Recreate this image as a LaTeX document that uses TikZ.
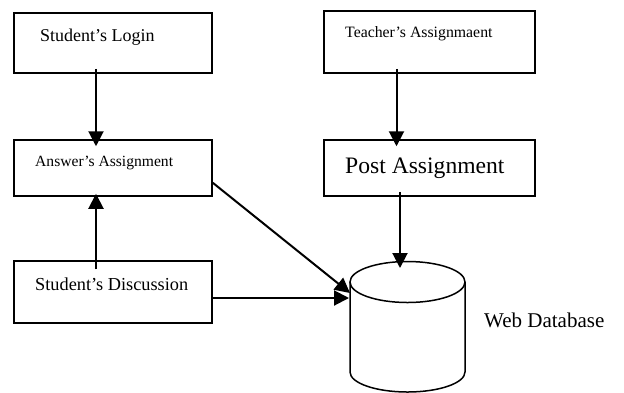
\documentclass[tikz,border=0pt]{standalone}
\usepackage{fontspec}
\setmainfont{Liberation Serif}
\usetikzlibrary{arrows.meta}
\begin{document}
\begin{tikzpicture}[x=1pt,y=-1pt,
  box/.style={draw, line width=1.5pt, rectangle, minimum width=198pt, minimum height=#1, inner sep=0pt, fill=white},
  txt/.style={anchor=base west, inner sep=0pt},
  arr/.style={line width=2pt, -{Triangle[length=15pt,width=15pt]}},
  dbline/.style={line width=1.5pt}]
\useasboundingbox (0,0) rectangle (624,392);
% boxes
\node[box=60pt] (login) at (113,43) {};
\node[box=56pt] (answer) at (113,168) {};
\node[box=62pt] (disc) at (113,292) {};
\node[box=62pt, minimum width=211pt] (teacher) at (429.5,42) {};
\node[box=56pt, minimum width=211pt] (post) at (429.5,168) {};
% texts
\node[txt, font=\fontsize{18}{20}\selectfont] (tlogin) at (40,41) {Student’s Login};
\node[txt, font=\fontsize{15.6}{18}\selectfont] (tanswer) at (35,166) {Answer’s Assignment};
\node[txt, font=\fontsize{18.3}{20}\selectfont] (tdisc) at (35,290) {Student’s Discussion};
\node[txt, font=\fontsize{15.8}{18}\selectfont] (tteacher) at (345,37) {Teacher’s Assignmaent};
\node[txt, font=\fontsize{23.6}{26}\selectfont] (tpost) at (345,173) {Post Assignment};
\node[txt, font=\fontsize{21}{24}\selectfont] (tdb) at (484,327) {Web Database};
% database cylinder
\draw[dbline, fill=white] (350,282) -- (350,372) arc[start angle=180, end angle=0, x radius=57.5, y radius=20] -- (465,282);
\draw[dbline, fill=white] (407.5,282) ellipse [x radius=57.5, y radius=20.5];
\coordinate (dbtop) at (400,268);
\coordinate (dbleftA) at (350,293);
\coordinate (dbleftB) at (349,298);
% connectors
\draw[arr] ([xshift=-17pt,yshift=5pt]login.south) -- ([xshift=-17pt,yshift=-7pt]answer.north);
\draw[arr] ([xshift=-17pt,yshift=-9pt]disc.north) -- ([xshift=-17pt,yshift=3pt]answer.south);
\draw[arr] ([xshift=-33pt,yshift=5pt]teacher.south) -- ([xshift=-33pt,yshift=-7pt]post.north);
\draw[arr] ([xshift=-29.5pt,yshift=5pt]post.south) -- (dbtop);
\draw[arr] ([yshift=14pt]answer.south east) -- (dbleftA);
\draw[arr] ([yshift=-6pt]disc.east) -- (dbleftB);
\end{tikzpicture}
\end{document}
